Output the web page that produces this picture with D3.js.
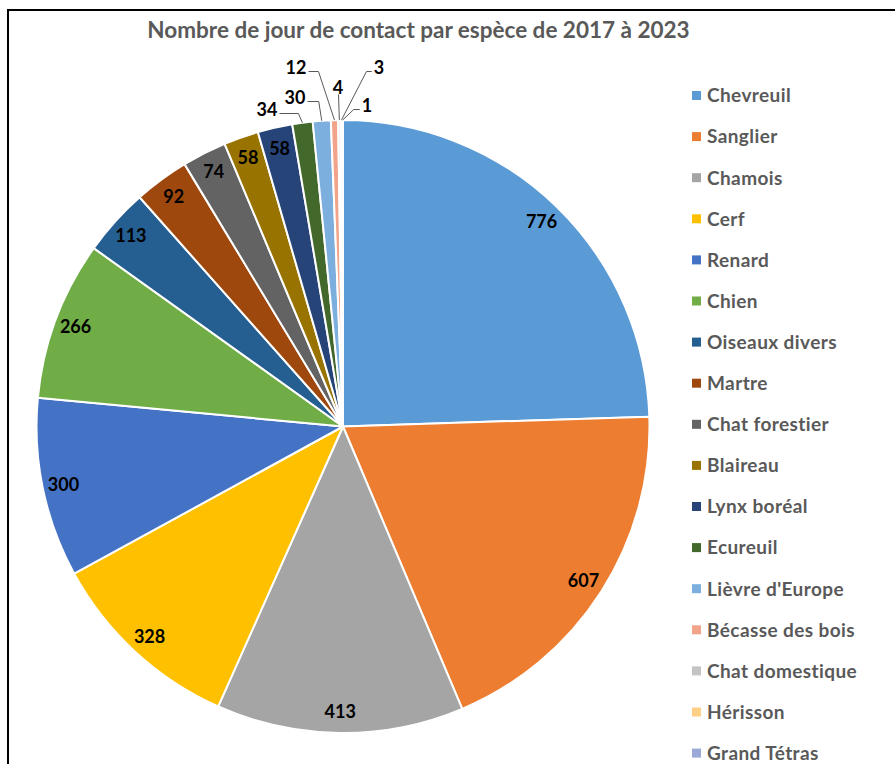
<!DOCTYPE html>
<html>
<head>
<meta charset="utf-8">
<script src="https://cdn.jsdelivr.net/npm/d3@7"></script>
<style>
  body { margin: 0; background: #fff; }
  svg { display: block; }
</style>
</head>
<body>
<script>
//chart data
var titre = "Nombre de jour de contact par espèce de 2017 à 2023";
var especes = ["Chevreuil", "Sanglier", "Chamois", "Cerf", "Renard", "Chien", "Oiseaux divers",
    "Martre", "Chat forestier", "Blaireau", "Lynx boréal", "Ecureuil", "Lièvre d'Europe",
    "Bécasse des bois", "Chat domestique", "Hérisson", "Grand Tétras"];
var jours = [776, 607, 413, 328, 300, 266, 113, 92, 74, 58, 58, 34, 30, 12, 4, 3, 1];
var couleurs = ["#5b9bd5", "#ed7d31", "#a5a5a5", "#ffc000", "#4472c4", "#70ad47", "#255e91",
    "#9e480e", "#636363", "#997300", "#264478", "#43682b", "#7cafdd",
    "#f1a48a", "#c4c4c4", "#ffcf87", "#9aa9d8"];

//placement of the labels that sit outside the pie (text centre relative to pie centre)
var etiquettesExt = {
    11: {dx: -76, dy: -317, coude: -4},
    12: {dx: -48, dy: -329, coude: -3},
    13: {dx: -47, dy: -359, coude: -16},
    14: {dx: -5,  dy: -339, coude: null},
    15: {dx: 36,  dy: -359, coude: 25},
    16: {dx: 24,  dy: -321, coude: 11}
};

window.onload = dessiner();

function dessiner(){
    var width = 895,
        height = 764;
    var cx = 343, cy = 426.5, r = 306.5;

    var svg = d3.select("body")
        .append("svg")
        .attr("width", width)
        .attr("height", height);

    //frame
    svg.append("path")
        .attr("d", "M8," + height + "V10H" + width)
        .attr("fill", "none")
        .attr("stroke", "#000")
        .attr("stroke-width", 2);

    //title
    svg.append("text")
        .attr("x", 418.5)
        .attr("y", 38)
        .attr("text-anchor", "middle")
        .attr("font-family", "Lato, sans-serif")
        .attr("font-weight", "bold")
        .attr("font-size", 22.5)
        .attr("fill", "#595959")
        .text(titre);

    var donnees = especes.map(function(e, i){ return {nom: e, val: jours[i], idx: i}; });

    var pie = d3.pie()
        .value(function(d){ return d.val; })
        .sort(null);
    var arcs = pie(donnees);

    var arc = d3.arc().innerRadius(0).outerRadius(r);

    var g = svg.append("g")
        .attr("transform", "translate(" + cx + "," + cy + ")");

    g.selectAll(".part")
        .data(arcs)
        .enter()
        .append("path")
        .attr("class", "part")
        .attr("d", arc)
        .attr("fill", function(d){ return couleurs[d.data.idx]; })
        .attr("stroke", "#fff")
        .attr("stroke-width", 2)
        .attr("stroke-linejoin", "round");

    //inside labels
    var rLabel = r - 21;
    g.selectAll(".lab")
        .data(arcs.filter(function(d){ return !(d.data.idx in etiquettesExt); }))
        .enter()
        .append("text")
        .attr("class", "lab")
        .attr("x", function(d){ return rLabel * Math.sin((d.startAngle + d.endAngle) / 2); })
        .attr("y", function(d){ return -rLabel * Math.cos((d.startAngle + d.endAngle) / 2); })
        .attr("dy", "0.36em")
        .attr("text-anchor", "middle")
        .attr("font-family", "Lato, sans-serif")
        .attr("font-weight", "bold")
        .attr("font-size", 18)
        .attr("fill", "#000")
        .text(function(d){ return d.data.val; });

    //outside labels with leader lines
    arcs.filter(function(d){ return d.data.idx in etiquettesExt; }).forEach(function(d){
        var p = etiquettesExt[d.data.idx];
        var a = (d.startAngle + d.endAngle) / 2;
        var ax = r * Math.sin(a), ay = -r * Math.cos(a);
        var t = g.append("text")
            .attr("x", p.dx)
            .attr("y", p.dy)
            .attr("dy", "0.36em")
            .attr("text-anchor", "middle")
            .attr("font-family", "Lato, sans-serif")
            .attr("font-weight", "bold")
            .attr("font-size", 18)
            .attr("fill", "#000")
            .text(d.data.val);
        var w = t.node().getComputedTextLength();
        var pts;
        if (p.coude === null) {
            pts = [[p.dx + 0.5, p.dy + 7], [ax, ay]];
        } else {
            var ly = p.dy + 4;
            var sx = p.coude < 0 ? p.dx + w / 2 + 2 : p.dx - w / 2 - 2;
            pts = [[sx, ly], [ax + p.coude, ly], [ax, ay]];
        }
        g.append("path")
            .attr("d", d3.line()(pts))
            .attr("fill", "none")
            .attr("stroke", "#595959")
            .attr("stroke-width", 1);
    });

    //legend
    var legende = svg.selectAll(".leg")
        .data(donnees)
        .enter()
        .append("g")
        .attr("class", "leg")
        .attr("transform", function(d, i){ return "translate(692," + (95.5 + i * 41.1) + ")"; });
    legende.append("rect")
        .attr("x", 0)
        .attr("y", -4.5)
        .attr("width", 9)
        .attr("height", 9)
        .attr("fill", function(d){ return couleurs[d.idx]; });
    legende.append("text")
        .attr("x", 15)
        .attr("dy", "0.36em")
        .attr("font-family", "Lato, sans-serif")
        .attr("font-weight", "bold")
        .attr("font-size", 19)
        .attr("letter-spacing", 0.4)
        .attr("fill", "#595959")
        .text(function(d){ return d.nom; });
}
</script>
</body>
</html>
